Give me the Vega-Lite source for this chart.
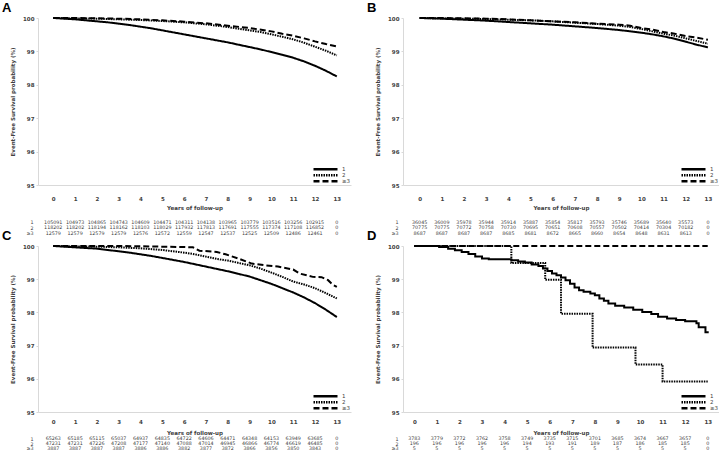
{
"$schema": "https://vega.github.io/schema/vega-lite/v6.json",
"padding": {"left": 2, "top": 2, "right": 0, "bottom": 0},
"background": "white",
"datasets": {
"curves": [
{"p":"A","g":"1","t":0,"s":100},{"p":"A","g":"1","t":0.5,"s":99.98},{"p":"A","g":"1","t":1,"s":99.96},{"p":"A","g":"1","t":1.5,"s":99.93},{"p":"A","g":"1","t":2,"s":99.9},{"p":"A","g":"1","t":2.5,"s":99.87},{"p":"A","g":"1","t":3,"s":99.83},{"p":"A","g":"1","t":3.5,"s":99.79},{"p":"A","g":"1","t":4,"s":99.74},{"p":"A","g":"1","t":4.5,"s":99.69},{"p":"A","g":"1","t":5,"s":99.63},{"p":"A","g":"1","t":5.5,"s":99.57},{"p":"A","g":"1","t":6,"s":99.51},{"p":"A","g":"1","t":6.5,"s":99.45},{"p":"A","g":"1","t":7,"s":99.39},{"p":"A","g":"1","t":7.5,"s":99.33},{"p":"A","g":"1","t":8,"s":99.27},{"p":"A","g":"1","t":8.5,"s":99.2},{"p":"A","g":"1","t":9,"s":99.13},{"p":"A","g":"1","t":9.5,"s":99.06},{"p":"A","g":"1","t":10,"s":98.98},{"p":"A","g":"1","t":10.5,"s":98.9},{"p":"A","g":"1","t":11,"s":98.81},{"p":"A","g":"1","t":11.5,"s":98.7},{"p":"A","g":"1","t":12,"s":98.57},{"p":"A","g":"1","t":12.5,"s":98.42},{"p":"A","g":"1","t":13,"s":98.25},
{"p":"A","g":"2","t":0,"s":100},{"p":"A","g":"2","t":1,"s":99.99},{"p":"A","g":"2","t":2,"s":99.98},{"p":"A","g":"2","t":3,"s":99.96},{"p":"A","g":"2","t":4,"s":99.94},{"p":"A","g":"2","t":5,"s":99.91},{"p":"A","g":"2","t":6,"s":99.87},{"p":"A","g":"2","t":7,"s":99.81},{"p":"A","g":"2","t":8,"s":99.73},{"p":"A","g":"2","t":8.5,"s":99.68},{"p":"A","g":"2","t":9,"s":99.63},{"p":"A","g":"2","t":9.5,"s":99.58},{"p":"A","g":"2","t":10,"s":99.51},{"p":"A","g":"2","t":10.5,"s":99.44},{"p":"A","g":"2","t":11,"s":99.36},{"p":"A","g":"2","t":11.5,"s":99.26},{"p":"A","g":"2","t":12,"s":99.14},{"p":"A","g":"2","t":12.5,"s":99.02},{"p":"A","g":"2","t":13,"s":98.88},
{"p":"A","g":"≥3","t":0,"s":100},{"p":"A","g":"≥3","t":1,"s":100},{"p":"A","g":"≥3","t":2,"s":99.99},{"p":"A","g":"≥3","t":3,"s":99.98},{"p":"A","g":"≥3","t":4,"s":99.96},{"p":"A","g":"≥3","t":5,"s":99.93},{"p":"A","g":"≥3","t":6,"s":99.89},{"p":"A","g":"≥3","t":7,"s":99.84},{"p":"A","g":"≥3","t":8,"s":99.77},{"p":"A","g":"≥3","t":9,"s":99.7},{"p":"A","g":"≥3","t":10,"s":99.6},{"p":"A","g":"≥3","t":10.5,"s":99.53},{"p":"A","g":"≥3","t":11,"s":99.47},{"p":"A","g":"≥3","t":11.5,"s":99.39},{"p":"A","g":"≥3","t":12,"s":99.3},{"p":"A","g":"≥3","t":12.5,"s":99.22},{"p":"A","g":"≥3","t":13,"s":99.15},
{"p":"B","g":"1","t":0,"s":100},{"p":"B","g":"1","t":1,"s":99.98},{"p":"B","g":"1","t":2,"s":99.95},{"p":"B","g":"1","t":3,"s":99.92},{"p":"B","g":"1","t":4,"s":99.88},{"p":"B","g":"1","t":5,"s":99.84},{"p":"B","g":"1","t":6,"s":99.8},{"p":"B","g":"1","t":7,"s":99.75},{"p":"B","g":"1","t":8,"s":99.7},{"p":"B","g":"1","t":9,"s":99.64},{"p":"B","g":"1","t":10,"s":99.56},{"p":"B","g":"1","t":10.5,"s":99.51},{"p":"B","g":"1","t":11,"s":99.45},{"p":"B","g":"1","t":11.5,"s":99.38},{"p":"B","g":"1","t":12,"s":99.29},{"p":"B","g":"1","t":12.5,"s":99.2},{"p":"B","g":"1","t":13,"s":99.12},
{"p":"B","g":"2","t":0,"s":100},{"p":"B","g":"2","t":1,"s":99.99},{"p":"B","g":"2","t":2,"s":99.98},{"p":"B","g":"2","t":3,"s":99.97},{"p":"B","g":"2","t":4,"s":99.95},{"p":"B","g":"2","t":5,"s":99.93},{"p":"B","g":"2","t":6,"s":99.9},{"p":"B","g":"2","t":7,"s":99.86},{"p":"B","g":"2","t":8,"s":99.82},{"p":"B","g":"2","t":9,"s":99.77},{"p":"B","g":"2","t":9.5,"s":99.73},{"p":"B","g":"2","t":10,"s":99.67},{"p":"B","g":"2","t":10.5,"s":99.6},{"p":"B","g":"2","t":11,"s":99.53},{"p":"B","g":"2","t":11.5,"s":99.47},{"p":"B","g":"2","t":12,"s":99.39},{"p":"B","g":"2","t":12.5,"s":99.31},{"p":"B","g":"2","t":13,"s":99.23},
{"p":"B","g":"≥3","t":0,"s":100},{"p":"B","g":"≥3","t":1,"s":100},{"p":"B","g":"≥3","t":2,"s":99.99},{"p":"B","g":"≥3","t":3,"s":99.98},{"p":"B","g":"≥3","t":4,"s":99.96},{"p":"B","g":"≥3","t":5,"s":99.93},{"p":"B","g":"≥3","t":6,"s":99.9},{"p":"B","g":"≥3","t":7,"s":99.87},{"p":"B","g":"≥3","t":8,"s":99.83},{"p":"B","g":"≥3","t":9,"s":99.8},{"p":"B","g":"≥3","t":9.5,"s":99.77},{"p":"B","g":"≥3","t":10,"s":99.7},{"p":"B","g":"≥3","t":10.5,"s":99.65},{"p":"B","g":"≥3","t":11,"s":99.58},{"p":"B","g":"≥3","t":11.5,"s":99.53},{"p":"B","g":"≥3","t":12,"s":99.46},{"p":"B","g":"≥3","t":12.5,"s":99.41},{"p":"B","g":"≥3","t":13,"s":99.35},
{"p":"C","g":"1","t":0,"s":100},{"p":"C","g":"1","t":0.5,"s":99.98},{"p":"C","g":"1","t":1,"s":99.96},{"p":"C","g":"1","t":1.5,"s":99.94},{"p":"C","g":"1","t":2,"s":99.92},{"p":"C","g":"1","t":2.5,"s":99.88},{"p":"C","g":"1","t":3,"s":99.84},{"p":"C","g":"1","t":3.5,"s":99.8},{"p":"C","g":"1","t":4,"s":99.75},{"p":"C","g":"1","t":4.5,"s":99.7},{"p":"C","g":"1","t":5,"s":99.64},{"p":"C","g":"1","t":5.5,"s":99.58},{"p":"C","g":"1","t":6,"s":99.52},{"p":"C","g":"1","t":6.5,"s":99.45},{"p":"C","g":"1","t":7,"s":99.38},{"p":"C","g":"1","t":7.5,"s":99.31},{"p":"C","g":"1","t":8,"s":99.24},{"p":"C","g":"1","t":8.5,"s":99.16},{"p":"C","g":"1","t":9,"s":99.08},{"p":"C","g":"1","t":9.5,"s":98.97},{"p":"C","g":"1","t":10,"s":98.86},{"p":"C","g":"1","t":10.5,"s":98.73},{"p":"C","g":"1","t":11,"s":98.6},{"p":"C","g":"1","t":11.5,"s":98.45},{"p":"C","g":"1","t":12,"s":98.28},{"p":"C","g":"1","t":12.5,"s":98.08},{"p":"C","g":"1","t":13,"s":97.86},
{"p":"C","g":"2","t":0,"s":100},{"p":"C","g":"2","t":1,"s":99.99},{"p":"C","g":"2","t":2,"s":99.98},{"p":"C","g":"2","t":3,"s":99.96},{"p":"C","g":"2","t":4,"s":99.93},{"p":"C","g":"2","t":5,"s":99.88},{"p":"C","g":"2","t":6,"s":99.8},{"p":"C","g":"2","t":6.5,"s":99.75},{"p":"C","g":"2","t":7,"s":99.68},{"p":"C","g":"2","t":7.5,"s":99.61},{"p":"C","g":"2","t":8,"s":99.56},{"p":"C","g":"2","t":8.5,"s":99.49},{"p":"C","g":"2","t":9,"s":99.42},{"p":"C","g":"2","t":9.5,"s":99.32},{"p":"C","g":"2","t":10,"s":99.2},{"p":"C","g":"2","t":10.5,"s":99.07},{"p":"C","g":"2","t":11,"s":98.93},{"p":"C","g":"2","t":11.5,"s":98.84},{"p":"C","g":"2","t":12,"s":98.73},{"p":"C","g":"2","t":12.5,"s":98.58},{"p":"C","g":"2","t":13,"s":98.42},
{"p":"C","g":"≥3","t":0,"s":100},{"p":"C","g":"≥3","t":3,"s":100},{"p":"C","g":"≥3","t":4,"s":99.99},{"p":"C","g":"≥3","t":5,"s":99.98},{"p":"C","g":"≥3","t":6,"s":99.97},{"p":"C","g":"≥3","t":6.4,"s":99.96},{"p":"C","g":"≥3","t":6.7,"s":99.86},{"p":"C","g":"≥3","t":7.5,"s":99.82},{"p":"C","g":"≥3","t":7.9,"s":99.75},{"p":"C","g":"≥3","t":8.5,"s":99.62},{"p":"C","g":"≥3","t":9.1,"s":99.47},{"p":"C","g":"≥3","t":9.7,"s":99.42},{"p":"C","g":"≥3","t":10.3,"s":99.38},{"p":"C","g":"≥3","t":11,"s":99.29},{"p":"C","g":"≥3","t":11.3,"s":99.17},{"p":"C","g":"≥3","t":11.9,"s":99.07},{"p":"C","g":"≥3","t":12.3,"s":99.06},{"p":"C","g":"≥3","t":12.6,"s":98.97},{"p":"C","g":"≥3","t":12.8,"s":98.84},{"p":"C","g":"≥3","t":13,"s":98.77},
{"p":"D","g":"1","t":0,"s":100},{"p":"D","g":"1","t":1.1,"s":99.97},{"p":"D","g":"1","t":1.5,"s":99.92},{"p":"D","g":"1","t":1.8,"s":99.87},{"p":"D","g":"1","t":2.1,"s":99.82},{"p":"D","g":"1","t":2.4,"s":99.76},{"p":"D","g":"1","t":2.7,"s":99.68},{"p":"D","g":"1","t":3,"s":99.62},{"p":"D","g":"1","t":3.3,"s":99.6},{"p":"D","g":"1","t":4.3,"s":99.57},{"p":"D","g":"1","t":4.6,"s":99.53},{"p":"D","g":"1","t":4.9,"s":99.5},{"p":"D","g":"1","t":5.2,"s":99.44},{"p":"D","g":"1","t":5.5,"s":99.4},{"p":"D","g":"1","t":5.7,"s":99.32},{"p":"D","g":"1","t":5.9,"s":99.25},{"p":"D","g":"1","t":6.1,"s":99.17},{"p":"D","g":"1","t":6.3,"s":99.12},{"p":"D","g":"1","t":6.5,"s":99.05},{"p":"D","g":"1","t":6.7,"s":98.97},{"p":"D","g":"1","t":6.9,"s":98.86},{"p":"D","g":"1","t":7.1,"s":98.75},{"p":"D","g":"1","t":7.3,"s":98.67},{"p":"D","g":"1","t":7.5,"s":98.62},{"p":"D","g":"1","t":7.8,"s":98.57},{"p":"D","g":"1","t":8,"s":98.52},{"p":"D","g":"1","t":8.2,"s":98.42},{"p":"D","g":"1","t":8.4,"s":98.35},{"p":"D","g":"1","t":8.6,"s":98.27},{"p":"D","g":"1","t":8.9,"s":98.2},{"p":"D","g":"1","t":9.3,"s":98.15},{"p":"D","g":"1","t":9.7,"s":98.08},{"p":"D","g":"1","t":10.1,"s":98.01},{"p":"D","g":"1","t":10.5,"s":97.95},{"p":"D","g":"1","t":10.8,"s":97.87},{"p":"D","g":"1","t":11.2,"s":97.82},{"p":"D","g":"1","t":11.6,"s":97.77},{"p":"D","g":"1","t":12,"s":97.73},{"p":"D","g":"1","t":12.5,"s":97.67},{"p":"D","g":"1","t":12.6,"s":97.55},{"p":"D","g":"1","t":12.9,"s":97.4},{"p":"D","g":"1","t":13,"s":97.37},
{"p":"D","g":"2","t":0,"s":100},{"p":"D","g":"2","t":4.3,"s":99.49},{"p":"D","g":"2","t":5.8,"s":98.98},{"p":"D","g":"2","t":6.5,"s":97.96},{"p":"D","g":"2","t":7.9,"s":96.94},{"p":"D","g":"2","t":9.8,"s":96.43},{"p":"D","g":"2","t":11,"s":95.92},{"p":"D","g":"2","t":13,"s":95.92},
{"p":"D","g":"≥3","t":0,"s":100},{"p":"D","g":"≥3","t":13,"s":100}
],
"risk": [
{"p":"A","g":"1","t":0,"n":105091},{"p":"A","g":"1","t":1,"n":104973},{"p":"A","g":"1","t":2,"n":104865},{"p":"A","g":"1","t":3,"n":104743},{"p":"A","g":"1","t":4,"n":104609},{"p":"A","g":"1","t":5,"n":104471},{"p":"A","g":"1","t":6,"n":104311},{"p":"A","g":"1","t":7,"n":104138},{"p":"A","g":"1","t":8,"n":103965},{"p":"A","g":"1","t":9,"n":103779},{"p":"A","g":"1","t":10,"n":103516},{"p":"A","g":"1","t":11,"n":103256},{"p":"A","g":"1","t":12,"n":102915},{"p":"A","g":"1","t":13,"n":0},
{"p":"A","g":"2","t":0,"n":118202},{"p":"A","g":"2","t":1,"n":118202},{"p":"A","g":"2","t":2,"n":118194},{"p":"A","g":"2","t":3,"n":118162},{"p":"A","g":"2","t":4,"n":118103},{"p":"A","g":"2","t":5,"n":118029},{"p":"A","g":"2","t":6,"n":117932},{"p":"A","g":"2","t":7,"n":117813},{"p":"A","g":"2","t":8,"n":117691},{"p":"A","g":"2","t":9,"n":117555},{"p":"A","g":"2","t":10,"n":117374},{"p":"A","g":"2","t":11,"n":117108},{"p":"A","g":"2","t":12,"n":116852},{"p":"A","g":"2","t":13,"n":0},
{"p":"A","g":"≥3","t":0,"n":12579},{"p":"A","g":"≥3","t":1,"n":12579},{"p":"A","g":"≥3","t":2,"n":12579},{"p":"A","g":"≥3","t":3,"n":12579},{"p":"A","g":"≥3","t":4,"n":12576},{"p":"A","g":"≥3","t":5,"n":12572},{"p":"A","g":"≥3","t":6,"n":12559},{"p":"A","g":"≥3","t":7,"n":12547},{"p":"A","g":"≥3","t":8,"n":12537},{"p":"A","g":"≥3","t":9,"n":12525},{"p":"A","g":"≥3","t":10,"n":12509},{"p":"A","g":"≥3","t":11,"n":12486},{"p":"A","g":"≥3","t":12,"n":12461},{"p":"A","g":"≥3","t":13,"n":0},
{"p":"B","g":"1","t":0,"n":36045},{"p":"B","g":"1","t":1,"n":36009},{"p":"B","g":"1","t":2,"n":35978},{"p":"B","g":"1","t":3,"n":35944},{"p":"B","g":"1","t":4,"n":35914},{"p":"B","g":"1","t":5,"n":35887},{"p":"B","g":"1","t":6,"n":35854},{"p":"B","g":"1","t":7,"n":35817},{"p":"B","g":"1","t":8,"n":35793},{"p":"B","g":"1","t":9,"n":35746},{"p":"B","g":"1","t":10,"n":35689},{"p":"B","g":"1","t":11,"n":35640},{"p":"B","g":"1","t":12,"n":35573},{"p":"B","g":"1","t":13,"n":0},
{"p":"B","g":"2","t":0,"n":70775},{"p":"B","g":"2","t":1,"n":70775},{"p":"B","g":"2","t":2,"n":70772},{"p":"B","g":"2","t":3,"n":70758},{"p":"B","g":"2","t":4,"n":70730},{"p":"B","g":"2","t":5,"n":70695},{"p":"B","g":"2","t":6,"n":70651},{"p":"B","g":"2","t":7,"n":70608},{"p":"B","g":"2","t":8,"n":70557},{"p":"B","g":"2","t":9,"n":70502},{"p":"B","g":"2","t":10,"n":70414},{"p":"B","g":"2","t":11,"n":70304},{"p":"B","g":"2","t":12,"n":70182},{"p":"B","g":"2","t":13,"n":0},
{"p":"B","g":"≥3","t":0,"n":8687},{"p":"B","g":"≥3","t":1,"n":8687},{"p":"B","g":"≥3","t":2,"n":8687},{"p":"B","g":"≥3","t":3,"n":8687},{"p":"B","g":"≥3","t":4,"n":8685},{"p":"B","g":"≥3","t":5,"n":8681},{"p":"B","g":"≥3","t":6,"n":8672},{"p":"B","g":"≥3","t":7,"n":8665},{"p":"B","g":"≥3","t":8,"n":8660},{"p":"B","g":"≥3","t":9,"n":8654},{"p":"B","g":"≥3","t":10,"n":8648},{"p":"B","g":"≥3","t":11,"n":8631},{"p":"B","g":"≥3","t":12,"n":8613},{"p":"B","g":"≥3","t":13,"n":0},
{"p":"C","g":"1","t":0,"n":65263},{"p":"C","g":"1","t":1,"n":65185},{"p":"C","g":"1","t":2,"n":65115},{"p":"C","g":"1","t":3,"n":65037},{"p":"C","g":"1","t":4,"n":64937},{"p":"C","g":"1","t":5,"n":64835},{"p":"C","g":"1","t":6,"n":64722},{"p":"C","g":"1","t":7,"n":64606},{"p":"C","g":"1","t":8,"n":64471},{"p":"C","g":"1","t":9,"n":64348},{"p":"C","g":"1","t":10,"n":64153},{"p":"C","g":"1","t":11,"n":63949},{"p":"C","g":"1","t":12,"n":63685},{"p":"C","g":"1","t":13,"n":0},
{"p":"C","g":"2","t":0,"n":47231},{"p":"C","g":"2","t":1,"n":47231},{"p":"C","g":"2","t":2,"n":47226},{"p":"C","g":"2","t":3,"n":47208},{"p":"C","g":"2","t":4,"n":47177},{"p":"C","g":"2","t":5,"n":47140},{"p":"C","g":"2","t":6,"n":47088},{"p":"C","g":"2","t":7,"n":47014},{"p":"C","g":"2","t":8,"n":46945},{"p":"C","g":"2","t":9,"n":46866},{"p":"C","g":"2","t":10,"n":46774},{"p":"C","g":"2","t":11,"n":46619},{"p":"C","g":"2","t":12,"n":46485},{"p":"C","g":"2","t":13,"n":0},
{"p":"C","g":"≥3","t":0,"n":3887},{"p":"C","g":"≥3","t":1,"n":3887},{"p":"C","g":"≥3","t":2,"n":3887},{"p":"C","g":"≥3","t":3,"n":3887},{"p":"C","g":"≥3","t":4,"n":3886},{"p":"C","g":"≥3","t":5,"n":3886},{"p":"C","g":"≥3","t":6,"n":3882},{"p":"C","g":"≥3","t":7,"n":3877},{"p":"C","g":"≥3","t":8,"n":3872},{"p":"C","g":"≥3","t":9,"n":3866},{"p":"C","g":"≥3","t":10,"n":3856},{"p":"C","g":"≥3","t":11,"n":3850},{"p":"C","g":"≥3","t":12,"n":3843},{"p":"C","g":"≥3","t":13,"n":0},
{"p":"D","g":"1","t":0,"n":3783},{"p":"D","g":"1","t":1,"n":3779},{"p":"D","g":"1","t":2,"n":3772},{"p":"D","g":"1","t":3,"n":3762},{"p":"D","g":"1","t":4,"n":3758},{"p":"D","g":"1","t":5,"n":3749},{"p":"D","g":"1","t":6,"n":3735},{"p":"D","g":"1","t":7,"n":3715},{"p":"D","g":"1","t":8,"n":3701},{"p":"D","g":"1","t":9,"n":3685},{"p":"D","g":"1","t":10,"n":3674},{"p":"D","g":"1","t":11,"n":3667},{"p":"D","g":"1","t":12,"n":3657},{"p":"D","g":"1","t":13,"n":0},
{"p":"D","g":"2","t":0,"n":196},{"p":"D","g":"2","t":1,"n":196},{"p":"D","g":"2","t":2,"n":196},{"p":"D","g":"2","t":3,"n":196},{"p":"D","g":"2","t":4,"n":196},{"p":"D","g":"2","t":5,"n":194},{"p":"D","g":"2","t":6,"n":193},{"p":"D","g":"2","t":7,"n":191},{"p":"D","g":"2","t":8,"n":189},{"p":"D","g":"2","t":9,"n":187},{"p":"D","g":"2","t":10,"n":186},{"p":"D","g":"2","t":11,"n":185},{"p":"D","g":"2","t":12,"n":185},{"p":"D","g":"2","t":13,"n":0},
{"p":"D","g":"≥3","t":0,"n":5},{"p":"D","g":"≥3","t":1,"n":5},{"p":"D","g":"≥3","t":2,"n":5},{"p":"D","g":"≥3","t":3,"n":5},{"p":"D","g":"≥3","t":4,"n":5},{"p":"D","g":"≥3","t":5,"n":5},{"p":"D","g":"≥3","t":6,"n":5},{"p":"D","g":"≥3","t":7,"n":5},{"p":"D","g":"≥3","t":8,"n":5},{"p":"D","g":"≥3","t":9,"n":5},{"p":"D","g":"≥3","t":10,"n":5},{"p":"D","g":"≥3","t":11,"n":5},{"p":"D","g":"≥3","t":12,"n":5},{"p":"D","g":"≥3","t":13,"n":0}
]
},
"resolve": {"scale": {"strokeDash": "independent"}, "legend": {"strokeDash": "independent"}},
"vconcat": [
{"resolve": {"scale": {"strokeDash": "independent"}, "legend": {"strokeDash": "independent"}}, "hconcat": [
 {"resolve": {"scale": {"strokeDash": "independent"}, "legend": {"strokeDash": "independent"}}, "vconcat": [
  {"title": {"text": "A"}, "width": 313, "height": 167, "data": {"name": "curves"}, "transform": [{"filter": "datum.p === 'A'"}],
   "mark": {"type": "line", "color": "black", "strokeWidth": 2},
   "encoding": {
    "x": {"field": "t", "type": "quantitative", "scale": {"domain": [-0.7, 13.65], "nice": false, "zero": false}, "axis": {"values": [0,1,2,3,4,5,6,7,8,9,10,11,12,13], "title": "Years of follow-up", "labelPadding": 11, "titlePadding": 4}},
    "y": {"field": "s", "type": "quantitative", "scale": {"domain": [95, 100], "nice": false, "zero": false}, "axis": {"values": [95,96,97,98,99,100], "title": "Event-Free Survival probability (%)"}},
    "strokeDash": {"field": "g", "type": "nominal", "scale": {"domain": ["1","2","≥3"], "range": [[1,0],[1.5,1],[6,3]]}, "legend": {"title": null, "orient": "bottom-right"}}
   }},
  {"width": 313, "height": 16.5, "data": {"name": "risk"}, "transform": [{"filter": "datum.p === 'A'"}],
   "mark": {"type": "text", "fontSize": 4.8, "color": "#404040"},
   "encoding": {
    "x": {"field": "t", "type": "quantitative", "scale": {"domain": [-0.7, 13.65], "nice": false, "zero": false}, "axis": null},
    "y": {"field": "g", "type": "nominal", "scale": {"domain": ["1","2","≥3"]}, "axis": {"title": null, "domain": false, "ticks": false, "labelFontSize": 4.8, "labelFontWeight": "normal", "labelPadding": 5}},
    "text": {"field": "n", "type": "quantitative", "format": "d"}
   }}
 ], "spacing": 8},
 {"resolve": {"scale": {"strokeDash": "independent"}, "legend": {"strokeDash": "independent"}}, "vconcat": [
  {"title": {"text": "B"}, "width": 316, "height": 167, "data": {"name": "curves"}, "transform": [{"filter": "datum.p === 'B'"}],
   "mark": {"type": "line", "color": "black", "strokeWidth": 2},
   "encoding": {
    "x": {"field": "t", "type": "quantitative", "scale": {"domain": [-0.75, 13.5], "nice": false, "zero": false}, "axis": {"values": [0,1,2,3,4,5,6,7,8,9,10,11,12,13], "title": "Years of follow-up", "labelPadding": 11, "titlePadding": 4}},
    "y": {"field": "s", "type": "quantitative", "scale": {"domain": [95, 100], "nice": false, "zero": false}, "axis": {"values": [95,96,97,98,99,100], "title": "Event-Free Survival probability (%)"}},
    "strokeDash": {"field": "g", "type": "nominal", "scale": {"domain": ["1","2","≥3"], "range": [[1,0],[1.5,1],[6,3]]}, "legend": {"title": null, "orient": "bottom-right"}}
   }},
  {"width": 316, "height": 16.5, "data": {"name": "risk"}, "transform": [{"filter": "datum.p === 'B'"}],
   "mark": {"type": "text", "fontSize": 4.8, "color": "#404040"},
   "encoding": {
    "x": {"field": "t", "type": "quantitative", "scale": {"domain": [-0.75, 13.5], "nice": false, "zero": false}, "axis": null},
    "y": {"field": "g", "type": "nominal", "scale": {"domain": ["1","2","≥3"]}, "axis": {"title": null, "domain": false, "ticks": false, "labelFontSize": 4.8, "labelFontWeight": "normal", "labelPadding": 5}},
    "text": {"field": "n", "type": "quantitative", "format": "d"}
   }}
 ], "spacing": 8}
], "spacing": 16},
{"resolve": {"scale": {"strokeDash": "independent"}, "legend": {"strokeDash": "independent"}}, "hconcat": [
 {"resolve": {"scale": {"strokeDash": "independent"}, "legend": {"strokeDash": "independent"}}, "vconcat": [
  {"title": {"text": "C"}, "width": 313, "height": 166, "data": {"name": "curves"}, "transform": [{"filter": "datum.p === 'C'"}],
   "mark": {"type": "line", "color": "black", "strokeWidth": 2},
   "encoding": {
    "x": {"field": "t", "type": "quantitative", "scale": {"domain": [-0.7, 13.65], "nice": false, "zero": false}, "axis": {"values": [0,1,2,3,4,5,6,7,8,9,10,11,12,13], "title": "Years of follow-up", "labelPadding": 7, "titlePadding": 5.5}},
    "y": {"field": "s", "type": "quantitative", "scale": {"domain": [95, 100], "nice": false, "zero": false}, "axis": {"values": [95,96,97,98,99,100], "title": "Event-Free Survival probability (%)"}},
    "strokeDash": {"field": "g", "type": "nominal", "scale": {"domain": ["1","2","≥3"], "range": [[1,0],[1.5,1],[6,3]]}, "legend": {"title": null, "orient": "bottom-right"}}
   }},
  {"width": 313, "height": 14, "data": {"name": "risk"}, "transform": [{"filter": "datum.p === 'C'"}],
   "mark": {"type": "text", "fontSize": 4.8, "color": "#404040"},
   "encoding": {
    "x": {"field": "t", "type": "quantitative", "scale": {"domain": [-0.7, 13.65], "nice": false, "zero": false}, "axis": null},
    "y": {"field": "g", "type": "nominal", "scale": {"domain": ["1","2","≥3"]}, "axis": {"title": null, "domain": false, "ticks": false, "labelFontSize": 4.8, "labelFontWeight": "normal", "labelPadding": 5}},
    "text": {"field": "n", "type": "quantitative", "format": "d"}
   }}
 ], "spacing": 0},
 {"resolve": {"scale": {"strokeDash": "independent"}, "legend": {"strokeDash": "independent"}}, "vconcat": [
  {"title": {"text": "D"}, "width": 316, "height": 166, "data": {"name": "curves"}, "transform": [{"filter": "datum.p === 'D'"}],
   "mark": {"type": "line", "color": "black", "strokeWidth": 2, "interpolate": "step-after"},
   "encoding": {
    "x": {"field": "t", "type": "quantitative", "scale": {"domain": [-0.5, 13.5], "nice": false, "zero": false}, "axis": {"values": [0,1,2,3,4,5,6,7,8,9,10,11,12,13], "title": "Years of follow-up", "labelPadding": 7, "titlePadding": 5.5}},
    "y": {"field": "s", "type": "quantitative", "scale": {"domain": [95, 100], "nice": false, "zero": false}, "axis": {"values": [95,96,97,98,99,100], "title": "Event-Free Survival probability (%)"}},
    "strokeDash": {"field": "g", "type": "nominal", "scale": {"domain": ["1","2","≥3"], "range": [[1,0],[1.5,1],[6,3]]}, "legend": {"title": null, "orient": "bottom-right"}}
   }},
  {"width": 316, "height": 14, "data": {"name": "risk"}, "transform": [{"filter": "datum.p === 'D'"}],
   "mark": {"type": "text", "fontSize": 4.8, "color": "#404040"},
   "encoding": {
    "x": {"field": "t", "type": "quantitative", "scale": {"domain": [-0.5, 13.5], "nice": false, "zero": false}, "axis": null},
    "y": {"field": "g", "type": "nominal", "scale": {"domain": ["1","2","≥3"]}, "axis": {"title": null, "domain": false, "ticks": false, "labelFontSize": 4.8, "labelFontWeight": "normal", "labelPadding": 5}},
    "text": {"field": "n", "type": "quantitative", "format": "d"}
   }}
 ], "spacing": 0}
], "spacing": 16}
],
"spacing": -7,
"config": {
 "view": {"stroke": null},
 "font": "DejaVu Sans",
 "text": {"font": "DejaVu Sans"},
 "title": {"font": "Liberation Sans", "fontSize": 13, "fontWeight": "bold", "color": "black", "anchor": "start", "dx": -8, "offset": -1},
 "axis": {"grid": false, "labelFont": "DejaVu Sans", "labelFontSize": 5.5, "labelFontWeight": "bold", "labelColor": "#404040", "titleFont": "DejaVu Sans", "titleFontSize": 5.5, "titleFontWeight": "bold", "titleColor": "#404040", "domainColor": "#d9d9d9", "tickColor": "#d9d9d9"},
 "axisX": {"ticks": false, "labelAngle": 0, "labelFlush": false, "labelOverlap": false},
 "axisY": {"tickSize": 2, "labelPadding": 2, "titlePadding": 7.5},
 "legend": {"offset": 0, "symbolType": "stroke", "symbolSize": 576, "symbolStrokeWidth": 2.3, "symbolStrokeColor": "black", "labelFont": "DejaVu Sans", "labelFontSize": 5.5, "labelColor": "#404040", "clipHeight": 4.5, "rowPadding": 0, "labelOffset": 3, "padding": 0}
}
}
